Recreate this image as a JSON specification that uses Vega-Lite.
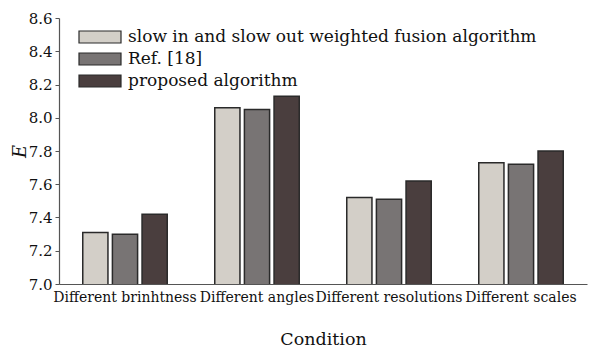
{
  "$schema": "https://vega.github.io/schema/vega-lite/v6.json",
  "width": 528,
  "height": 266,
  "autosize": "none",
  "padding": {"left": 59, "top": 18, "right": 6, "bottom": 65},
  "background": "white",
  "data": {
    "values": [
      {"condition": "Different  brinhtness", "method": "slow in and slow out weighted fusion algorithm", "E": 7.31},
      {"condition": "Different  brinhtness", "method": "Ref. [18]", "E": 7.30},
      {"condition": "Different  brinhtness", "method": "proposed algorithm", "E": 7.42},
      {"condition": "Different angles", "method": "slow in and slow out weighted fusion algorithm", "E": 8.06},
      {"condition": "Different angles", "method": "Ref. [18]", "E": 8.05},
      {"condition": "Different angles", "method": "proposed algorithm", "E": 8.13},
      {"condition": "Different resolutions", "method": "slow in and slow out weighted fusion algorithm", "E": 7.52},
      {"condition": "Different resolutions", "method": "Ref. [18]", "E": 7.51},
      {"condition": "Different resolutions", "method": "proposed algorithm", "E": 7.62},
      {"condition": "Different scales", "method": "slow in and slow out weighted fusion algorithm", "E": 7.73},
      {"condition": "Different scales", "method": "Ref. [18]", "E": 7.72},
      {"condition": "Different scales", "method": "proposed algorithm", "E": 7.80}
    ]
  },
  "mark": {"type": "bar", "stroke": "#2a2a2a", "strokeWidth": 1.5, "clip": true},
  "encoding": {
    "x": {
      "field": "condition",
      "type": "nominal",
      "sort": null,
      "scale": {"paddingInner": 0.36, "paddingOuter": 0.18},
      "axis": {
        "title": "Condition",
        "titleFontSize": 17.5,
        "titleFontWeight": "normal",
        "titleColor": "#111",
        "titlePadding": 26,
        "labelFontSize": 14,
        "labelColor": "#111",
        "labelAngle": 0,
        "labelPadding": 6,
        "labelLimit": 300,
        "labelOverlap": false,
        "ticks": false,
        "domainColor": "#555",
        "domainWidth": 1.2
      }
    },
    "xOffset": {
      "field": "method",
      "type": "nominal",
      "sort": ["slow in and slow out weighted fusion algorithm", "Ref. [18]", "proposed algorithm"],
      "scale": {"paddingInner": 0.15, "paddingOuter": 0}
    },
    "y": {
      "field": "E",
      "type": "quantitative",
      "scale": {"domain": [7.0, 8.6], "nice": false, "zero": false},
      "axis": {
        "title": "E",
        "titleFontStyle": "italic",
        "titleFontSize": 18,
        "titleFontWeight": "normal",
        "titleColor": "#111",
        "titleX": -30,
        "titleY": 133,
        "values": [7.0, 7.2, 7.4, 7.6, 7.8, 8.0, 8.2, 8.4, 8.6],
        "format": ".1f",
        "labelFontSize": 15,
        "labelColor": "#111",
        "labelPadding": 3,
        "grid": false,
        "tickSize": 4,
        "tickColor": "#555",
        "domainColor": "#555",
        "domainWidth": 1.2
      }
    },
    "fill": {
      "field": "method",
      "type": "nominal",
      "sort": ["slow in and slow out weighted fusion algorithm", "Ref. [18]", "proposed algorithm"],
      "scale": {
        "domain": ["slow in and slow out weighted fusion algorithm", "Ref. [18]", "proposed algorithm"],
        "range": ["#d3cfc8", "#787474", "#4a3e3e"]
      },
      "legend": {
        "title": null,
        "orient": "none",
        "legendX": 28,
        "legendY": 6,
        "labelFontSize": 17,
        "labelColor": "#111",
        "labelLimit": 500,
        "symbolType": "M-1.75,-0.5L1.75,-0.5L1.75,0.5L-1.75,0.5Z",
        "symbolSize": 576,
        "symbolStrokeColor": "#2a2a2a",
        "symbolStrokeWidth": 1.2,
        "rowPadding": -6,
        "labelOffset": 15,
        "padding": 0
      }
    }
  },
  "config": {
    "view": {"stroke": null},
    "font": "DejaVu Serif",
    "axis": {"labelFont": "DejaVu Serif", "titleFont": "DejaVu Serif"},
    "legend": {"labelFont": "DejaVu Serif"}
  }
}
